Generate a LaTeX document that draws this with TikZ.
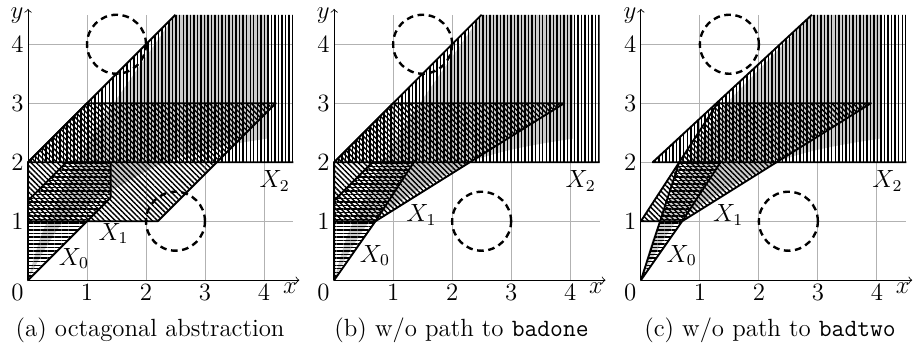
\documentclass[tikz,border=0pt]{standalone}
\usepackage{tikz}
\usetikzlibrary{patterns.meta}

\tikzset{
  every node/.style={font=\large},
  region/.style={line width=0.9pt, line join=round},
  hatchH/.style={pattern={Lines[angle=0,distance=1.7pt,line width=0.7pt]}},
  hatchV/.style={pattern={Lines[angle=90,distance=1.7pt,line width=0.7pt]}},
  hatchNW/.style={pattern={Lines[angle=-45,distance=1.8pt,line width=0.7pt]}},
  reach/.style={fill=gray!40},
  gridline/.style={gray!60, line width=0.4pt},
  badset/.style={line width=1.15pt, dash pattern=on 3.2pt off 2.2pt},
}

\begin{document}
\begin{tikzpicture}
    \useasboundingbox (-0.475,-1.24) rectangle (15.02,4.75);

    % conjunto alcanzable (gris) y rejilla
    \foreach \p/\sx/\tx in {a/0/2.5, b/5.19/2.5, c/10.39/2.9} {
      \begin{scope}[xshift=\sx cm]
        \fill[reach] (0,0) .. controls (0.12,0.45) and (0.2,0.75) .. (0.33,1)
            .. controls (0.55,1.5) and (0.9,2.2) .. (1.45,3) -- (\tx,4.5)
            -- (4.05,4.5) -- (4.05,2.4)
            .. controls (3.4,2.3) and (2.8,2.2) .. (2.3,2)
            .. controls (1.6,1.65) and (0.95,1.25) .. (0.6,1)
            .. controls (0.38,0.7) and (0.17,0.35) .. (0,0) -- cycle;
        \draw[gridline] (0,0) grid (4.5,4.5);
      \end{scope}
    }

    % (a) abstraccion octogonal
    \fill[hatchV] (0,2) -- (2.5,4.5) -- (4.5,4.5) -- (4.5,2) -- cycle;
    \draw[region] (2.5,4.5) -- (0,2) -- (4.5,2);
    \filldraw[region, hatchNW] (0,1) -- (2.2,1) -- (4.2,3) -- (1,3) -- (0,2) -- cycle;
    \filldraw[region, hatchH] (0,0) -- (1.4,1.4) -- (1.4,2) -- (0.65,2) -- (0,1.35) -- cycle;
    \node (X0a) at (0.78,0.37) {$X_0$};
    \node (X1a) at (1.45,0.79) {$X_1$};

    % (b) sin camino a badone
    \begin{scope}[xshift=5.19cm]
      \fill[hatchV] (0,2) -- (2.5,4.5) -- (4.5,4.5) -- (4.5,2) -- cycle;
      \draw[region] (2.5,4.5) -- (0,2) -- (4.5,2);
      \filldraw[region, hatchNW] (0,1) -- (0.7,1) -- (3.9,3) -- (1,3) -- (0,2) -- cycle;
      \filldraw[region, hatchH] (0,0) -- (0.7,1) -- (1.35,2) -- (0.65,2) -- (0,1.35) -- cycle;
      \node (X0b) at (0.69,0.42) {$X_0$};
      \node (X1b) at (1.48,1.1) {$X_1$};
    \end{scope}

    % (c) sin camino a badtwo
    \begin{scope}[xshift=10.39cm]
      \fill[hatchV] (0.2,2) -- (2.9,4.5) -- (4.5,4.5) -- (4.5,2) -- cycle;
      \draw[region] (2.9,4.5) -- (0.2,2) -- (4.5,2);
      \filldraw[region, hatchNW] (0,1) -- (0.7,1) -- (3.9,3) -- (1.3,3) -- cycle;
      \filldraw[region, hatchH] (0,0) -- (0.7,1) -- (1.35,2) -- (0.65,2) -- cycle;
      \node (X0c) at (0.69,0.42) {$X_0$};
      \node (X1c) at (1.48,1.1) {$X_1$};
    \end{scope}

    % estados malos, ejes y rotulos
    \foreach \p/\sx/\cx/\cap in {a/0/2.07/{(a) octagonal abstraction},
        b/5.19/2.16/{(b) w/o path to \texttt{badone}},
        c/10.39/2.19/{(c) w/o path to \texttt{badtwo}}} {
      \begin{scope}[xshift=\sx cm]
        \draw[badset] (1.5,4) circle (0.5);
        \draw[badset] (2.5,1) circle (0.5);
        \draw[->] (0,0) -- (4.6,0) node[below left, inner sep=1pt] (xl\p) {$x$};
        \draw[->] (0,0) -- (0,4.6) node[left, inner sep=2pt, yshift=-3pt] (yl\p) {$y$};
        \node[below left, inner sep=2pt] (o\p) at (0,0) {$0$};
        \foreach \i in {1,...,4} {
          \node[below, inner sep=2pt] (x\p\i) at (\i,0) {$\i$};
          \node[left, inner sep=2pt] (y\p\i) at (0,\i) {$\i$};
        }
        \node (X2\p) at (4.18,1.68) {$X_2$};
        \node (cap\p) at (\cx,-0.85) {\cap};
      \end{scope}
    }
\end{tikzpicture}
\end{document}
